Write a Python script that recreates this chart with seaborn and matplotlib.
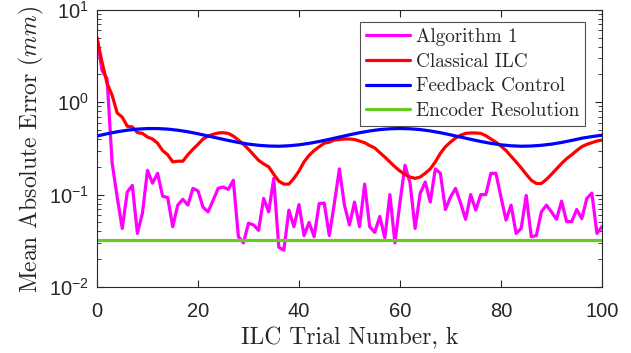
import numpy as np
import pandas as pd
import matplotlib
matplotlib.use("Agg")
import matplotlib.pyplot as plt
import seaborn as sns

trials = list(range(0, 101))

algorithm1 = [5.0, 2.2, 1.8, 0.22, 0.094, 0.043, 0.107, 0.126, 0.038, 0.063,
              0.183, 0.133, 0.17, 0.096, 0.093, 0.045, 0.077, 0.089, 0.077, 0.117,
              0.11, 0.073, 0.065, 0.087, 0.117, 0.121, 0.114, 0.143, 0.035, 0.030,
              0.049, 0.047, 0.041, 0.091, 0.065, 0.15, 0.027, 0.025, 0.068, 0.045,
              0.078, 0.036, 0.05, 0.035, 0.08, 0.081, 0.036, 0.08, 0.19, 0.077,
              0.047, 0.083, 0.045, 0.13, 0.045, 0.039, 0.058, 0.034, 0.1, 0.030,
              0.083, 0.208, 0.133, 0.043, 0.103, 0.137, 0.083, 0.19, 0.17, 0.069,
              0.094, 0.117, 0.081, 0.054, 0.1, 0.068, 0.1, 0.1, 0.17, 0.17,
              0.094, 0.053, 0.077, 0.038, 0.043, 0.098, 0.035, 0.036, 0.065, 0.077,
              0.065, 0.054, 0.085, 0.051, 0.051, 0.069, 0.055, 0.091, 0.104, 0.038,
              0.045]

classical_ilc = [5.0, 2.71, 1.6, 1.19, 0.766, 0.69, 0.55, 0.54, 0.47, 0.46,
                 0.42, 0.40, 0.36, 0.30, 0.27, 0.226, 0.23, 0.23, 0.27, 0.31,
                 0.35, 0.40, 0.43, 0.45, 0.465, 0.468, 0.46, 0.43, 0.39, 0.35,
                 0.31, 0.27, 0.235, 0.215, 0.2, 0.166, 0.14, 0.13, 0.13, 0.15,
                 0.18, 0.226, 0.266, 0.30, 0.33, 0.36, 0.37, 0.39, 0.395, 0.40,
                 0.40, 0.395, 0.38, 0.365, 0.34, 0.32, 0.285, 0.255, 0.226, 0.2,
                 0.18, 0.165, 0.155, 0.15, 0.155, 0.17, 0.19, 0.226, 0.28, 0.33,
                 0.37, 0.41, 0.44, 0.46, 0.465, 0.465, 0.46, 0.435, 0.40, 0.37,
                 0.335, 0.30, 0.26, 0.226, 0.195, 0.166, 0.143, 0.132, 0.132, 0.146,
                 0.166, 0.19, 0.217, 0.245, 0.27, 0.30, 0.33, 0.35, 0.365, 0.38,
                 0.39]

feedback_k = list(range(0, 101, 2))
feedback = [0.431, 0.456, 0.479, 0.498, 0.512, 0.519, 0.519, 0.512, 0.498, 0.479,
            0.456, 0.431, 0.408, 0.386, 0.367, 0.352, 0.342, 0.336, 0.334, 0.338,
            0.346, 0.359, 0.376, 0.397, 0.420, 0.444, 0.468, 0.489, 0.506, 0.516,
            0.520, 0.516, 0.506, 0.489, 0.468, 0.444, 0.420, 0.397, 0.376, 0.359,
            0.346, 0.338, 0.334, 0.336, 0.342, 0.352, 0.367, 0.386, 0.408, 0.425,
            0.440]

encoder_k = [0, 100]
encoder = [0.032, 0.032]

sns.set_style("white")
plt.rcParams["font.family"] = ["Liberation Sans", "DejaVu Sans"]
plt.rcParams["mathtext.fontset"] = "cm"
plt.rcParams["axes.unicode_minus"] = False

fig = plt.figure(figsize=(6.31, 3.53), dpi=100)
ax = fig.add_axes([0.1537, 0.187, 0.8003, 0.785])

lw = 2.3
sns.lineplot(x=trials, y=algorithm1, ax=ax, color="#FF00FF", lw=lw, label="Algorithm 1")
sns.lineplot(x=trials, y=classical_ilc, ax=ax, color="#FF0000", lw=lw, label="Classical ILC")
sns.lineplot(x=feedback_k, y=feedback, ax=ax, color="#0000FF", lw=lw, label="Feedback Control")
sns.lineplot(x=encoder_k, y=encoder, ax=ax, color="#66CC22", lw=lw, label="Encoder Resolution")

ax.set_yscale("log")
ax.set_xlim(0, 100)
ax.set_ylim(1e-2, 1e1)
ax.set_xticks([0, 20, 40, 60, 80, 100])

for s in ax.spines.values():
    s.set_visible(True)
    s.set_color("#262626")
    s.set_linewidth(0.8)
ax.tick_params(which="both", direction="in", top=True, right=True, bottom=True, left=True,
               color="#262626", labelsize=14.5, labelcolor="#262626")
ax.tick_params(which="major", length=5)
ax.tick_params(which="minor", length=3)
ax.tick_params(axis="x", pad=11)
ax.tick_params(axis="y", pad=6)

ax.set_xlabel("ILC Trial Number, k", fontfamily="cmr10", fontsize=17, color="#262626", labelpad=4)
ax.set_ylabel("Mean Absolute Error ($mm$)", fontfamily="cmr10", fontsize=17, color="#262626")
ax.yaxis.set_label_coords(-0.10, 0.495)

leg = ax.legend(loc="upper right", bbox_to_anchor=(0.966, 0.955), prop={"family": "cmr10", "size": 13.8},
                frameon=True, fancybox=False, edgecolor="#262626", handlelength=2.3,
                handletextpad=0.3, borderpad=0.3, labelspacing=0.35, borderaxespad=0)
leg.get_frame().set_linewidth(0.8)

fig.savefig("out.png", dpi=100)
